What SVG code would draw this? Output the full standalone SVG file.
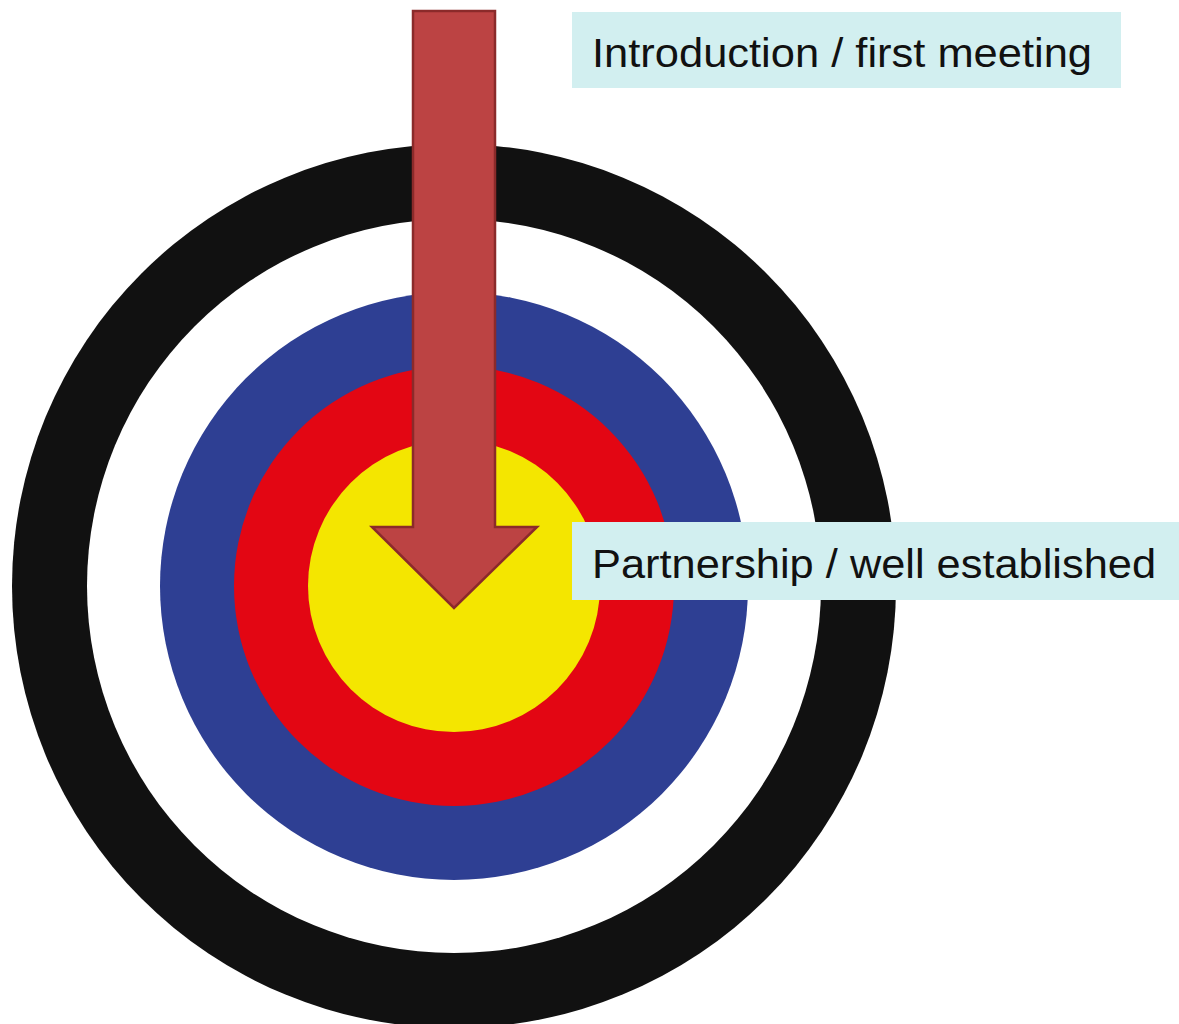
<svg xmlns="http://www.w3.org/2000/svg" width="1179" height="1024" viewBox="0 0 1179 1024">
<style>
.lbl{fill:#D2EFF0}
.t{font-family:"Liberation Sans","DejaVu Sans",sans-serif;font-size:40px;fill:#111}
</style>
<rect width="1179" height="1024" fill="#FFFFFF"/>
<g id="target">
<circle cx="454" cy="586" r="442" fill="#111111"/>
<circle cx="454" cy="586" r="367" fill="#FFFFFF"/>
<circle cx="454" cy="586" r="294" fill="#2E3F93"/>
<circle cx="454" cy="586" r="220" fill="#E30613"/>
<circle cx="454" cy="586" r="146" fill="#F4E600"/>
</g>
<g id="connectors">
<path d="M413,11 H495 V527 H537 L454,608 L372,527 H413 Z" fill="#BC4343" stroke="#8B2A2A" stroke-width="2.5" stroke-linejoin="miter"/>
</g>
<g id="label-intro">
<rect class="lbl" x="572" y="12" width="549" height="76"/>
<text class="t" x="592" y="67" textLength="500" lengthAdjust="spacingAndGlyphs">Introduction / first meeting</text>
</g>
<g id="label-partner">
<rect class="lbl" x="572" y="522" width="607" height="78"/>
<text class="t" x="592" y="578" textLength="564" lengthAdjust="spacingAndGlyphs">Partnership / well established</text>
</g>
</svg>
